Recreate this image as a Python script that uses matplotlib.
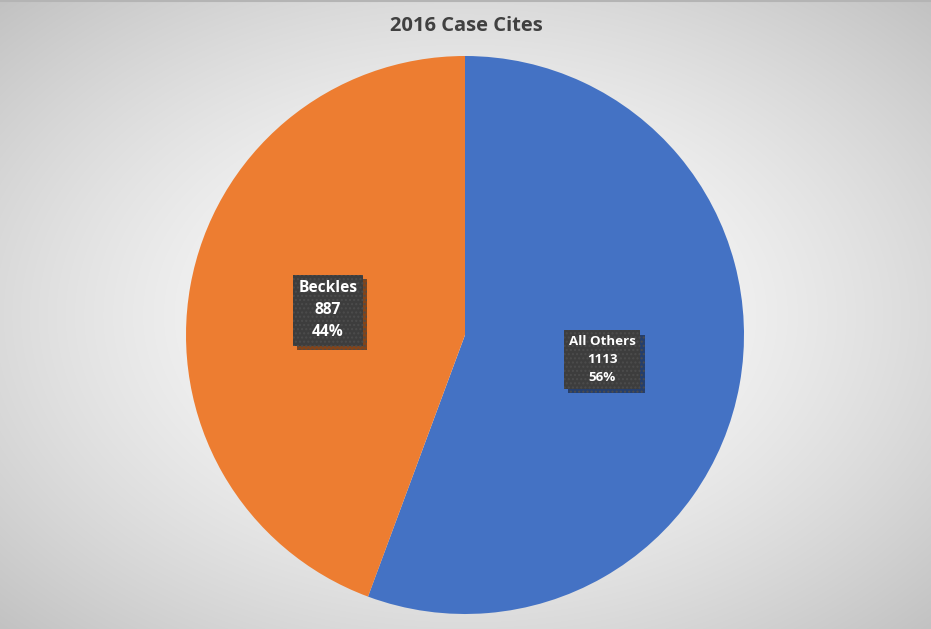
import matplotlib
matplotlib.use("Agg")
import matplotlib.pyplot as plt
import matplotlib.patheffects as pe
import numpy as np

plt.rcParams['font.family'] = ['Open Sans', 'DejaVu Sans']

labels = ["All Others", "Beckles"]
values = [1113, 887]
colors = ["#4472C4", "#ED7D31"]
label_sizes = [9.6, 11.2]
title = "2016 Case Cites"

fig = plt.figure(figsize=(9.31, 6.29), dpi=100)

# radial grey background, white in the middle, grey at the corners
bg = fig.add_axes([0, 0, 1, 1])
yy, xx = np.mgrid[0:629, 0:931]
r = np.sqrt(((xx - 465) / 465.0) ** 2 + ((yy - 315) / 315.0) ** 2) / np.sqrt(2)
shade = 1.0 - 0.24 * r ** 1.5
bg.imshow(np.dstack([shade] * 3), aspect="auto", extent=[0, 1, 0, 1])
bg.plot([0, 1], [0.999, 0.999], color="#b4b4b4", lw=1.5)
bg.set_xlim(0, 1)
bg.set_ylim(0, 1)
bg.axis("off")

ax = fig.add_axes([465 / 931 - 279 / 931, 15 / 629, 558 / 931, 558 / 629])
wedges, _ = ax.pie(values, colors=colors, startangle=90, counterclock=False,
                   wedgeprops=dict(linewidth=0))
ax.set_xlim(-1, 1)
ax.set_ylim(-1, 1)
ax.set_aspect("auto")
ax.axis("off")

total = sum(values)
for w, lab, v, fs in zip(wedges, labels, values, label_sizes):
    ang = np.deg2rad((w.theta1 + w.theta2) / 2)
    x, y = 0.5 * np.cos(ang), 0.5 * np.sin(ang)
    txt = "%s\n%d\n%d%%" % (lab, v, round(100.0 * v / total))
    t = ax.text(x, y, txt, ha="center", va="center", color="white",
                fontsize=fs, fontweight="bold", linespacing=1.5,
                bbox=dict(boxstyle="square,pad=0.35", facecolor="#3d3d3d",
                          edgecolor="#4c4c4c", linewidth=0, hatch="...."))
    t.get_bbox_patch().set_path_effects(
        [pe.SimplePatchShadow(offset=(3, -3), shadow_rgbFace="black", alpha=0.45),
         pe.Normal()])

fig.text(466 / 931, 1 - 26 / 629, title, ha="center", va="center",
         fontsize=14.5, fontweight="bold", color="#404040")

fig.savefig("out.png", dpi=100)
